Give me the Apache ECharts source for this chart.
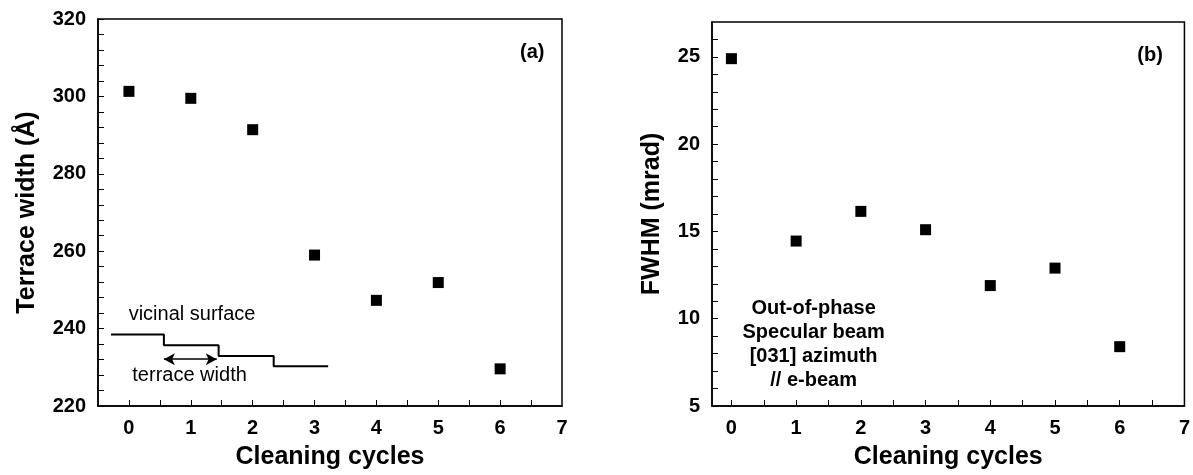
<!DOCTYPE html>
<html>
<head>
<meta charset="utf-8">
<script src="https://cdn.jsdelivr.net/npm/echarts@6/dist/echarts.min.js"></script>
<style>html,body{margin:0;padding:0;background:#fff}#c{width:1193px;height:475px}</style>
</head>
<body>
<div id="c"></div>
<script>
// ---- data ----
var cycles = [0, 1, 2, 3, 4, 5, 6];
var terraceWidth = [301.3, 299.5, 291.4, 259.0, 247.3, 251.9, 229.6];
var fwhm = [24.9, 14.45, 16.15, 15.1, 11.9, 12.9, 8.4];

var xLabelsA = [0, 1, 2, 3, 4, 5, 6, 7];
var xTicksA = [0, 0.5, 1, 1.5, 2, 2.5, 3, 3.5, 4, 4.5, 5, 5.5, 6, 6.5];
var yLabelsA = [220, 240, 260, 280, 300, 320];
var yTicksA = [224, 228, 232, 236, 240, 244, 248, 252, 256, 260, 264, 268, 272, 276, 280, 284, 288, 292, 296, 300, 304, 308, 312, 316];
var yLabelsB = [5, 10, 15, 20, 25];
var yTicksB = [6, 7, 8, 9, 10, 11, 12, 13, 14, 15, 16, 17, 18, 19, 20, 21, 22, 23, 24, 25, 26];

// schematic of a vicinal surface (panel a)
var stepEdgesX = [-0.29, 0.565, 1.45, 2.34, 3.22];
var stepLevelsY = [238.5, 235.7, 232.9, 230.3];
var arrowX = [0.565, 1.42];
var arrowY = 232.1;

var textA = [
  {x: 6.52, y: 311.3, text: '(a)', bold: true},
  {x: 1.02, y: 243.6, text: 'vicinal surface', bold: false},
  {x: 0.98, y: 228.0, text: 'terrace width', bold: false}
];
var textB = [
  {x: 6.47, y: 25.1, text: '(b)'},
  {x: 1.27, y: 8.55, text: 'Out-of-phase\nSpecular beam\n[031] azimuth\n// e-beam'}
];

// ---- build ----
var FONT = "'Liberation Sans', Arial, Helvetica, sans-serif";
var stepPts = [];
for (var i = 0; i < stepLevelsY.length; i++) {
  stepPts.push([stepEdgesX[i], stepLevelsY[i]]);
  stepPts.push([stepEdgesX[i + 1], stepLevelsY[i]]);
}

function xAxisCfg(idx, min, labels, ticks) {
  return {
    type: 'value', gridIndex: idx, min: min, max: 7,
    name: 'Cleaning cycles', nameLocation: 'middle', nameGap: 39,
    nameTextStyle: {fontFamily: FONT, fontWeight: 'bold', fontSize: 25, color: '#000'},
    axisLine: {show: true, onZero: false, lineStyle: {color: '#000', width: 1.5}},
    axisTick: {show: true, inside: true, length: 6, customValues: ticks, lineStyle: {color: '#000'}},
    axisLabel: {customValues: labels, margin: 12, fontFamily: FONT, fontWeight: 'bold', fontSize: 20, color: '#000'},
    splitLine: {show: false}
  };
}
function yAxisCfg(idx, min, max, name, gap, labels, ticks) {
  return {
    type: 'value', gridIndex: idx, min: min, max: max,
    name: name, nameLocation: 'middle', nameGap: gap,
    nameTextStyle: {fontFamily: FONT, fontWeight: 'bold', fontSize: 25, color: '#000'},
    axisLine: {show: true, onZero: false, lineStyle: {color: '#000', width: 1.5}},
    axisTick: {show: true, inside: true, length: 6, customValues: ticks.concat(labels), lineStyle: {color: '#000'}},
    axisLabel: {customValues: labels, margin: 12, fontFamily: FONT, fontWeight: 'bold', fontSize: 20, color: '#000'},
    splitLine: {show: false}
  };
}
function textSeries(xi, items, lineH) {
  return {
    type: 'scatter', xAxisIndex: xi, yAxisIndex: xi, symbolSize: 0, silent: true, z: 5,
    itemStyle: {opacity: 1, color: '#000'},
    data: items.map(function (t) {
      return {
        value: [t.x, t.y],
        label: {
          show: true, position: 'inside', formatter: t.text, color: '#000', opacity: 1,
          fontFamily: FONT, fontSize: 20, lineHeight: lineH,
          fontWeight: (t.bold === false) ? 'normal' : 'bold'
        }
      };
    })
  };
}

var chart = echarts.init(document.getElementById('c'), null, {renderer: 'canvas'});
chart.setOption({
  animation: false,
  backgroundColor: '#fff',
  grid: [
    {left: 98, top: 19, width: 464, bottom: 68, show: true, borderColor: '#000', borderWidth: 1.5, containLabel: false},
    {left: 712, top: 22, width: 475, bottom: 68, show: true, borderColor: '#000', borderWidth: 1.5, containLabel: false}
  ],
  xAxis: [
    xAxisCfg(0, -0.5, xLabelsA, xTicksA),
    xAxisCfg(1, -0.3, xLabelsA, xTicksA)
  ],
  yAxis: [
    yAxisCfg(0, 220, 320, 'Terrace width (Å)', 58, yLabelsA, yTicksA),
    yAxisCfg(1, 5, 27, 'FWHM (mrad)', 47, yLabelsB, yTicksB)
  ],
  series: [
    {
      type: 'scatter', xAxisIndex: 0, yAxisIndex: 0, symbol: 'rect', symbolSize: 11,
      itemStyle: {color: '#000', opacity: 1},
      data: cycles.map(function (c, i) { return [c, terraceWidth[i]]; })
    },
    {
      type: 'scatter', xAxisIndex: 1, yAxisIndex: 1, symbol: 'rect', symbolSize: 11,
      itemStyle: {color: '#000', opacity: 1},
      data: cycles.map(function (c, i) { return [c, fwhm[i]]; })
    },
    {
      type: 'line', xAxisIndex: 0, yAxisIndex: 0, showSymbol: false, symbol: 'none', silent: true,
      lineStyle: {color: '#000', width: 2},
      data: stepPts,
      markLine: {
        silent: true, symbol: ['arrow', 'arrow'], symbolSize: [9, 11],
        lineStyle: {color: '#000', width: 1.5, type: 'solid'},
        label: {show: false},
        data: [[{coord: [arrowX[0], arrowY]}, {coord: [arrowX[1], arrowY]}]]
      }
    },
    textSeries(0, textA, 24),
    textSeries(1, textB, 24)
  ]
});
</script>
</body>
</html>
